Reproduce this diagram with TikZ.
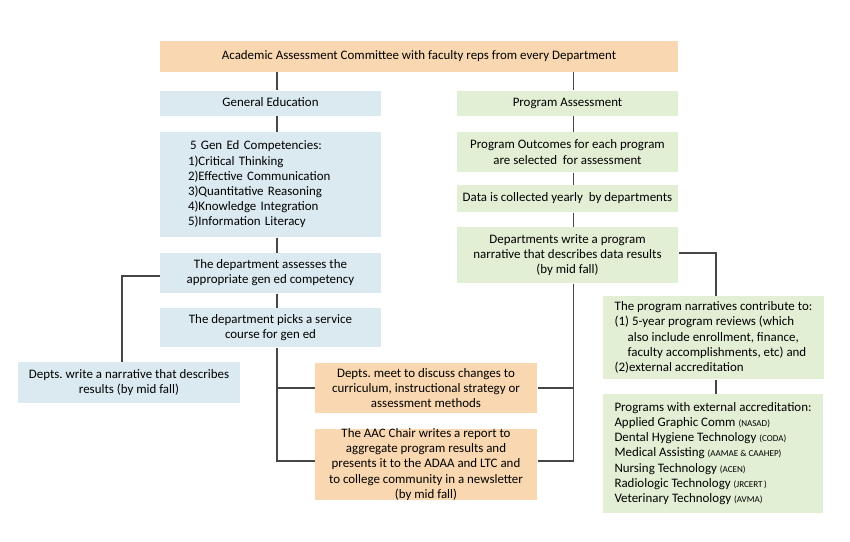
\documentclass[tikz,border=0pt]{standalone}
\usepackage{fontspec}
\setmainfont{Carlito}
\frenchspacing
\definecolor{peach}{RGB}{249,215,176}
\definecolor{paleblue}{RGB}{219,234,241}
\definecolor{palegreen}{RGB}{226,239,213}
\definecolor{linegray}{RGB}{70,70,70}
\tikzset{every picture/.style={line width=0.75pt}}
\tikzset{
  box/.style={inner sep=0pt, align=center, font=\fontsize{9.7}{11.4}\selectfont},
  oneline/.style={text height=7pt, text depth=2pt},
  aacbox/.style={box, fill=peach},
  gebox/.style={box, fill=paleblue},
  pabox/.style={box, fill=palegreen},
  link/.style={draw=linegray, line width=0.9pt}
}
\newcommand{\acc}[1]{{\fontsize{6.8}{8}\selectfont(#1)}}

\begin{document}
\begin{tikzpicture}[x=0.75pt,y=0.75pt,yscale=-1,xscale=1]
\useasboundingbox (0,0) rectangle (850,542);

%Shape: Rectangle [committee]
\node[aacbox, oneline, minimum width=388.5pt, minimum height=23.25pt] (committee) at (419,56.5) {Academic Assessment Committee with faculty reps from every Department};

%Shape: Rectangle [gen ed column]
\node[gebox, oneline, minimum width=165.75pt, minimum height=18.75pt] (gened) at (270.5,103.5) {General Education};
\node[gebox, align=left, text width=123.75pt, inner xsep=21pt, minimum height=78.75pt] (competencies) at (270.5,184.5) {\hspace*{1.5pt}5 Gen Ed Competencies:\\ 1)Critical Thinking\\ 2)Effective Communication\\ 3)Quantitative Reasoning\\ 4)Knowledge Integration\\ 5)Information Literacy};
\node[gebox, minimum width=165.75pt, minimum height=30pt] (assesses) at (270.5,273) {The department assesses the\\ appropriate gen ed competency};
\node[gebox, minimum width=165.75pt, minimum height=29.25pt] (picks) at (270.5,327.5) {The department picks a service\\ course for gen ed};
\node[gebox, minimum width=166.5pt, minimum height=30.75pt] (narrative) at (129,382.5) {Depts. write a narrative that describes\\ results (by mid fall)};

%Shape: Rectangle [program column]
\node[pabox, oneline, minimum width=165.75pt, minimum height=18.75pt] (progassess) at (567.5,103.5) {Program Assessment};
\node[pabox, minimum width=165.75pt, minimum height=30pt] (outcomes) at (567.5,152) {Program Outcomes for each program\\ are selected\ \ for assessment};
\node[pabox, oneline, minimum width=165.75pt, minimum height=20.25pt] (datacoll) at (567.5,198.5) {Data is collected yearly\ \ by departments};
\node[pabox, minimum width=165.75pt, minimum height=42pt] (pnarrative) at (567.5,255) {Departments write a program\\ narrative that describes data results\\ (by mid fall)};
\node[pabox, align=left, minimum width=165.75pt, minimum height=62.25pt] (contribute) at (713.5,337.5) {The program narratives contribute to:\\ (1) 5-year program reviews (which\\ \hspace*{9.75pt}also include enrollment, finance,\\ \hspace*{9.75pt}faculty accomplishments, etc) and\\ (2)external accreditation};
\node[pabox, align=left, minimum width=165pt, minimum height=89.25pt] (accredit) at (713,453.5) {Programs with external accreditation:\\ Applied Graphic Comm \acc{NASAD}\\ Dental Hygiene Technology \acc{CODA}\\ Medical Assisting \acc{AAMAE \& CAAHEP}\\ Nursing Technology \acc{ACEN}\\ Radiologic Technology \acc{JRCERT\,}\\ Veterinary Technology \acc{AVMA}};

%Shape: Rectangle [shared boxes]
\node[aacbox, minimum width=166.5pt, minimum height=37.5pt] (meet) at (426,388) {Depts. meet to discuss changes to\\ curriculum, instructional strategy or\\ assessment methods};
\node[aacbox, minimum width=166.5pt, minimum height=53.25pt] (report) at (426,464.5) {The AAC Chair writes a report to\\ aggregate program results and\\ presents it to the ADAA and LTC and\\ to college community in a newsletter\\ (by mid fall)};

%Straight Lines
\coordinate (gx) at (277,0);
\coordinate (px) at (573.5,0);
\coordinate (nx) at (122,0);
\coordinate (cx) at (716,0);
\draw[link] (committee.south -| gx) -- (gened.north -| gx);
\draw[link] (committee.south -| px) -- (progassess.north -| px);
\draw[link] (gened.south -| gx) -- (competencies.north -| gx);
\draw[link] (competencies.south -| gx) -- (assesses.north -| gx);
\draw[link] (assesses.south -| gx) -- (picks.north -| gx);
\draw[link] (progassess.south -| px) -- (outcomes.north -| px);
\draw[link] (outcomes.south -| px) -- (datacoll.north -| px);
\draw[link] (datacoll.south -| px) -- (pnarrative.north -| px);
\draw[link] (contribute.south -| cx) -- (accredit.north -| cx);
%Straight Lines [elbows]
\draw[link] ([yshift=2.25pt]assesses.west) -| (narrative.north -| nx);
\draw[link] ([yshift=-1.5pt]pnarrative.east) -| (contribute.north -| cx);
\draw[link] (picks.south -| gx) |- ([yshift=-2.6pt]report.west);
\draw[link] (pnarrative.south -| px) |- ([yshift=-2.6pt]report.east);
\draw[link] (meet.west) -- (meet.west -| gx);
\draw[link] (meet.east) -- (meet.east -| px);

\end{tikzpicture}
\end{document}
